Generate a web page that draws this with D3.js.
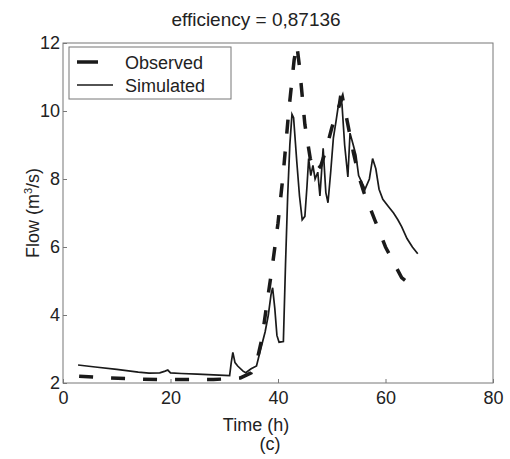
<!DOCTYPE html>
<html>
<head>
<meta charset="utf-8">
<script src="https://cdn.jsdelivr.net/npm/d3@7"></script>
<style>
  body { margin: 0; background: #fff; }
  text { font-family: Arial, 'Liberation Sans', sans-serif; fill: #222; }
</style>
</head>
<body>
<script>
// observed flow, dashed
const obsTime = [3, 8, 13, 18, 23, 28, 33, 35, 36, 37, 38, 39, 40, 41, 42, 43, 43.5, 44, 45, 46, 47, 48, 49, 50, 51, 52, 53, 54, 55, 56, 57, 58, 59, 60, 61, 62, 63, 64.2]
const obsFlow = [2.2, 2.15, 2.12, 2.1, 2.1, 2.1, 2.15, 2.3, 2.6, 3.3, 4.4, 5.5, 6.7, 8.2, 10.0, 11.5, 11.95, 11.3, 9.6, 8.6, 8.2, 8.4, 8.9, 9.5, 10.0, 10.4, 9.6, 8.8, 8.1, 7.6, 7.2, 6.8, 6.4, 6.0, 5.7, 5.4, 5.1, 4.95]

// simulated flow, solid
const simTime = [2.8, 6, 10, 14, 16, 18, 19, 19.5, 20, 22, 25, 28, 31, 31.3, 31.6, 32, 32.5, 33.5, 34, 35, 36, 36.7, 37.6, 38.2, 38.7, 39, 39.4, 39.8, 40.2, 41, 41.4, 41.8, 42.2, 42.6, 42.9, 43.5, 44, 44.5, 45, 45.4, 45.7, 46.1, 46.5, 46.9, 47.4, 47.8, 48.4, 48.9, 49.3, 49.8, 50.3, 50.8, 51.5, 51.9, 52.4, 53, 53.4, 54, 54.5, 55, 55.6, 56.2, 57, 57.6, 58.2, 58.8, 59.5, 60.5, 61.5, 62.3, 63, 64, 65, 66]
const simFlow = [2.53, 2.47, 2.4, 2.32, 2.29, 2.3, 2.35, 2.38, 2.3, 2.28, 2.26, 2.24, 2.22, 2.6, 2.9, 2.6, 2.5, 2.35, 2.3, 2.42, 2.5, 2.95, 3.5, 4.0, 4.6, 4.8, 4.2, 3.4, 3.2, 3.22, 5.5, 7.5, 9.0, 9.9, 9.8, 8.5, 7.5, 6.8, 6.9, 7.8, 8.6, 8.1, 8.4, 8.0, 8.2, 7.5, 8.9, 7.6, 7.3, 8.2, 9.2, 9.7, 10.45, 10.2, 9.0, 8.06, 9.35, 9.0, 8.7, 8.1, 7.9, 7.7, 8.0, 8.6, 8.3, 7.7, 7.4, 7.2, 7.0, 6.8, 6.6, 6.25, 6.0, 5.8]

const xTicks = [0, 20, 40, 60, 80]
const yTicks = [2, 4, 6, 8, 10, 12]
const seriesNames = ['Observed', 'Simulated']

const W = 510, H = 459
const mLeft = 63, mRight = 493, mTop = 43, mBottom = 383

const svg = d3.create('svg')
  .attr('width', W)
  .attr('height', H)
  .style('background', '#fff')

const x = d3.scaleLinear().domain([0, 80]).range([mLeft, mRight])
const y = d3.scaleLinear().domain([2, 12]).range([mBottom, mTop])

// box
svg.append('rect')
  .attr('x', mLeft).attr('y', mTop)
  .attr('width', mRight - mLeft).attr('height', mBottom - mTop)
  .attr('fill', 'none')
  .attr('stroke', '#777')
  .attr('stroke-width', 1)

const xAxis = svg.append('g')
  .attr('transform', `translate(0,${mBottom})`)
  .call(d3.axisBottom(x).tickValues(xTicks).tickSize(-4).tickPadding(8))
xAxis.select('.domain').remove()
xAxis.selectAll('line').attr('stroke', '#777')
xAxis.selectAll('text').attr('font-size', 18).attr('fill', '#222')

const yAxis = svg.append('g')
  .attr('transform', `translate(${mLeft},0)`)
  .call(d3.axisLeft(y).tickValues(yTicks).tickSize(-4).tickPadding(3))
yAxis.select('.domain').remove()
yAxis.selectAll('line').attr('stroke', '#777')
yAxis.selectAll('text').attr('font-size', 18).attr('fill', '#222')

const line = d3.line()
  .x(d => x(d[0]))
  .y(d => y(d[1]))

svg.append('path')
  .datum(simTime.map((t, i) => [t, simFlow[i]]))
  .attr('d', line)
  .attr('fill', 'none')
  .attr('stroke', '#1a1a1a')
  .attr('stroke-width', 1.7)

svg.append('path')
  .datum(obsTime.map((t, i) => [t, obsFlow[i]]))
  .attr('d', line)
  .attr('fill', 'none')
  .attr('stroke', '#1a1a1a')
  .attr('stroke-width', 3.5)
  .attr('stroke-dasharray', '14,18')

// legend
const lg = svg.append('g')
lg.append('rect')
  .attr('x', 69).attr('y', 47)
  .attr('width', 162).attr('height', 52)
  .attr('fill', '#fff')
  .attr('stroke', '#777')
lg.append('line')
  .attr('x1', 77).attr('x2', 98).attr('y1', 62).attr('y2', 62)
  .attr('stroke', '#1a1a1a').attr('stroke-width', 3.5)
lg.append('line')
  .attr('x1', 77).attr('x2', 113).attr('y1', 85).attr('y2', 85)
  .attr('stroke', '#1a1a1a').attr('stroke-width', 1.7)
lg.selectAll('text.lab')
  .data(seriesNames)
  .join('text')
  .attr('class', 'lab')
  .attr('x', 125)
  .attr('y', (d, i) => 69 + i * 23)
  .attr('font-size', 18)
  .text(d => d)

svg.append('text')
  .attr('x', 256).attr('y', 26)
  .attr('text-anchor', 'middle')
  .attr('font-size', 19)
  .text('efficiency = 0,87136')

svg.append('text')
  .attr('x', 256).attr('y', 431)
  .attr('text-anchor', 'middle')
  .attr('font-size', 18)
  .text('Time (h)')

svg.append('text')
  .attr('x', 270).attr('y', 450)
  .attr('text-anchor', 'middle')
  .attr('font-size', 18)
  .text('(c)')

const yl = svg.append('text')
  .attr('transform', 'translate(39,213) rotate(-90)')
  .attr('text-anchor', 'middle')
  .attr('font-size', 18)
yl.append('tspan').text('Flow (m')
yl.append('tspan').attr('dy', -7).attr('font-size', 11).text('3')
yl.append('tspan').attr('dy', 7).text('/s)')

document.body.appendChild(svg.node())
</script>
</body>
</html>
